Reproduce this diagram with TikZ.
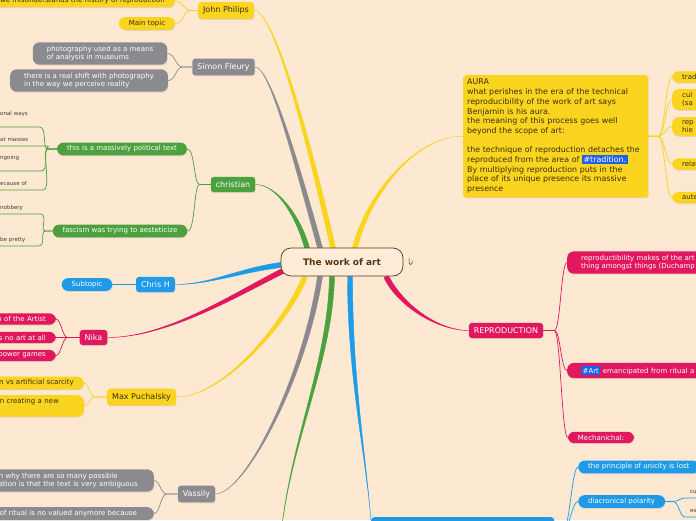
\documentclass[tikz,border=0pt]{standalone}
\usepackage{fontspec}
\setmainfont{DejaVu Sans}
\usepackage{xcolor}
\usetikzlibrary{calc,shadows,positioning}
\definecolor{mmBg}{RGB}{253,232,210}
\definecolor{mmCore}{RGB}{254,236,216}
\definecolor{mmBrown}{RGB}{92,52,16}
\definecolor{mmInk}{RGB}{58,46,10}
\definecolor{mmLeafInk}{RGB}{70,60,50}
\definecolor{mmYellow}{RGB}{250,212,30}
\definecolor{mmGrey}{RGB}{139,139,143}
\definecolor{mmGreen}{RGB}{76,160,62}
\definecolor{mmBlue}{RGB}{30,155,232}
\definecolor{mmPink}{RGB}{226,24,94}
\definecolor{mmTag}{RGB}{28,96,238}
\pgfdeclarelayer{back}
\pgfdeclarelayer{links}
\pgfsetlayers{back,links,main}
\newcommand\mmtag[1]{{\fboxsep=1.5pt\colorbox{mmTag}{\textcolor{white}{#1}}}}
\newcommand\limb[6]{\filldraw[#1, line width=0.4pt] ($(#2)+(#3)$) .. controls +(#5) and +(#6) .. (#4) .. controls +(#6) and +(#5) .. ($(#2)-(#3)$) -- cycle;}
\tikzset{
  topicbox/.style={rounded corners=3pt, inner xsep=5pt, inner ysep=4.5pt, font=\fontsize{8}{9.6}\selectfont, drop shadow={opacity=0.2, shadow xshift=0.5pt, shadow yshift=-1pt}},
  subbox/.style={rounded corners=6.5pt, inner xsep=10pt, inner ysep=3pt, font=\fontsize{7}{8.5}\selectfont, drop shadow={opacity=0.2, shadow xshift=0.5pt, shadow yshift=-1pt}},
  notebox/.style={subbox, inner xsep=14pt, inner ysep=3.5pt, align=left},
  leafbox/.style={anchor=south west, text width=#1, align=left, inner xsep=5pt, inner ysep=1.5pt, text depth=2.5pt, font=\fontsize{5.5}{6.5}\selectfont, text=mmLeafInk},
  leafbox/.default=30pt,
  cutleft/.style={anchor=east, text width=#1, align=right},
  cutleft/.default=90pt,
  cutright/.style={anchor=west, text width=#1, align=left},
  cutright/.default=60pt,
  twig/.style={draw=#1, line width=0.7pt}
}
\begin{document}
\begin{tikzpicture}[x=1pt, y=-1pt]
\useasboundingbox (0,0) rectangle (696,520);
\begin{pgfonlayer}{back}
  \fill[mmBg] (0,0) rectangle (696,520);
\end{pgfonlayer}

\node[draw=mmBrown, line width=0.7pt, fill=mmCore, rounded corners=10pt, minimum width=122pt, minimum height=28pt, text=mmBrown, font=\fontsize{9}{11}\selectfont\bfseries] (root) at (342,262) {The work of art};
\draw[mmBrown, line width=0.5pt] (409.2,258.3) -- (409.2,263.2) arc[start angle=180, end angle=0, radius=1.4] -- (412,260.5);

\node[topicbox, fill=mmYellow, text=mmInk] (john) at (226,10.5) {John Philips};
\node[subbox, fill=mmYellow, text=mmInk, cutleft=200pt] (history) at (175,0.8) {we misunderstands the history of reproduction};
\node[subbox, fill=mmYellow, text=mmInk] (main) at (147,23.5) {Main topic};

\node[topicbox, fill=mmGrey, text=white] (simon) at (223.5,67) {Simon Fleury};
\node[notebox, fill=mmGrey, text=white] (museums) at (100,53.5) {photography used as a means\\of analysis in museums};
\node[notebox, fill=mmGrey, text=white] (shift) at (89,80.5) {there is a real shift with photography\\in the way we perceive reality};

\node[topicbox, fill=mmGreen, text=white] (christian) at (233,184.5) {christian};
\node[subbox, fill=mmGreen, text=white] (political) at (122,149) {this is a massively political text};
\node[subbox, fill=mmGreen, text=white] (fascism) at (120,231) {fascism was trying to aesteticize};
\node[leafbox=34pt, text depth=10pt] (ways) at (-5,127) {onal ways};
\node[leafbox=40pt] (masses) at (-5,146) {at masses};
\node[leafbox=36pt, text depth=10pt] (ongoing) at (-5,171) {ngoing};
\node[leafbox=38pt] (because) at (-5,190) {ecause of};
\node[leafbox=35pt] (snobbery) at (-5,214) {nobbery};
\node[leafbox=33pt] (pretty) at (-5,246) {be pretty};

\node[topicbox, fill=mmBlue, text=white] (chris) at (155.5,284.5) {Chris H};
\node[subbox, fill=mmBlue, text=white] (subtopic) at (87,284.5) {Subtopic};

\node[topicbox, fill=mmPink, text=white] (nika) at (93.5,337.5) {Nika};
\node[subbox, fill=mmPink, text=white, cutleft] (artist) at (56,319) {n of the Artist};
\node[subbox, fill=mmPink, text=white, cutleft] (noart) at (56,337.5) {s no art at all};
\node[subbox, fill=mmPink, text=white, cutleft] (power) at (56,355.5) {power games};

\node[topicbox, fill=mmYellow, text=mmInk] (max) at (141.5,397) {Max Puchalsky};
\node[subbox, fill=mmYellow, text=mmInk, cutleft] (scarcity) at (84,383) {n vs artificial scarcity};
\node[subbox, fill=mmYellow, text=mmInk, anchor=north east, text width=74pt, align=left, text depth=10pt] (creating) at (84,395) {n creating a new};

\node[topicbox, fill=mmGrey, text=white] (vassily) at (196.5,494) {Vassily};
\node[notebox, fill=mmGrey, text=white, anchor=east, text width=141pt] (ambiguous) at (154,480.5) {n why there are so many possible\\ation is that the text is very ambiguous};
\node[subbox, fill=mmGrey, text=white, anchor=north east, text width=144pt, align=left] (ritual) at (154,507) {of ritual is no valued anymore because};

\node[topicbox, fill=mmYellow, text=mmInk, anchor=north west, text width=177pt, align=left, inner xsep=4pt, inner ysep=4pt, font=\fontsize{7.9}{9.7}\selectfont] (aura) at (463,75) {AURA\\what perishes in the era of the technical\\reproducibility of the work of art says\\Benjamin is his aura.\\the meaning of this process goes well\\beyond the scope of art:\\[9.7pt]the technique of reproduction detaches the\\reproduced from the area of \mmtag{\#tradition.}\\By multiplying reproduction puts in the\\place of its unique presence its massive\\presence};
\node[subbox, fill=mmYellow, text=mmInk, cutright] (trad) at (672,77) {trad};
\node[subbox, fill=mmYellow, text=mmInk, cutright] (cult) at (672,99.5) {cul\\(sa};
\node[subbox, fill=mmYellow, text=mmInk, cutright] (rep) at (672,126.5) {rep\\hie};
\node[subbox, fill=mmYellow, text=mmInk, cutright] (relat) at (672,164) {relat};
\node[subbox, fill=mmYellow, text=mmInk, cutright] (aute) at (672,197.5) {aute};

\node[topicbox, fill=mmPink, text=white] (repro) at (506,330.5) {REPRODUCTION};
\node[notebox, fill=mmPink, text=white, cutright=150pt] (duchamp) at (567,262.5) {reproductibility makes of the art\\thing amongst things (Duchamp};
\node[notebox, fill=mmPink, text=white, cutright=150pt] (emancipated) at (567,370.5) {\mmtag{\#Art} emancipated from ritual a};
\node[subbox, fill=mmPink, text=white] (mech) at (601,437.5) {Mechanichal:};

\node[fill=mmBlue, rounded corners=3pt, anchor=north west, minimum width=183pt, minimum height=26pt, drop shadow={opacity=0.2, shadow xshift=0.5pt, shadow yshift=-1pt}] (bluetopic) at (371,517) {};
\node[subbox, fill=mmBlue, text=white, anchor=west] (unicity) at (578,467) {the principle of unicity is lost};
\node[subbox, fill=mmBlue, text=white, anchor=west] (polarity) at (578,501.5) {diacronical polarity};
\node[leafbox=20pt] (cu) at (685,498) {cu};
\node[leafbox=20pt] (es) at (685,517) {es};
\coordinate (greenend) at (280,545);

\begin{pgfonlayer}{links}
\limb{mmYellow}{[xshift=-9pt]root.north}{2.5,0}{john.east}{-25,-110}{20,0}
\limb{mmGrey}{[xshift=-22pt]root.north}{2.5,0}{simon.east}{-25,-90}{15,0}
\limb{mmGreen}{[xshift=-35pt]root.north}{2.5,0}{christian.east}{-10,-35}{20,0}
\limb{mmBlue}{[yshift=-3pt]root.west}{0,2.5}{chris.east}{-40,5}{35,0}
\limb{mmPink}{[xshift=4pt,yshift=-8pt]root.west}{1.2,2.2}{nika.east}{-50,25}{60,0}
\limb{mmYellow}{[xshift=-37pt]root.south}{2.2,1.2}{max.east}{-15,40}{50,0}
\limb{mmGrey}{[xshift=-22pt]root.south}{2.5,0}{vassily.east}{-15,100}{30,0}
\limb{mmGreen}{[xshift=-10pt]root.south}{2.5,0}{greenend}{-2,90}{8,-100}
\limb{mmBlue}{[xshift=8pt]root.south}{2.5,0}{[yshift=-3pt]bluetopic.north west}{0,100}{-6,-70}
\limb{mmYellow}{[xshift=13pt]root.north}{2.5,0}{aura.west}{12,-50}{-50,0}
\limb{mmPink}{[xshift=44pt]root.south}{2,-1.5}{repro.west}{15,30}{-30,0}

\draw[twig=mmYellow] (john.west) -- ++(-8,0) .. controls +(-6,0) and +(8,0) .. (history.east);
\draw[twig=mmYellow] (john.west) -- ++(-8,0) .. controls +(-6,0) and +(8,0) .. (main.east);
\draw[twig=mmGrey] (simon.west) -- ++(-9,0) .. controls +(-8,0) and +(8,0) .. (museums.east);
\draw[twig=mmGrey] (simon.west) -- ++(-9,0) .. controls +(-8,0) and +(8,0) .. (shift.east);
\draw[twig=mmGreen] (christian.west) -- ++(-11,0) .. controls +(-6,0) and +(8,0) .. (political.east);
\draw[twig=mmGreen] (christian.west) -- ++(-11,0) .. controls +(-6,0) and +(8,0) .. (fascism.east);
\draw[twig=mmGreen] (political.west) -- ++(-9,0) .. controls +(-6,0) and +(8,0) .. (ways.south east) -- (ways.south west);
\draw[twig=mmGreen] (political.west) -- ++(-9,0) .. controls +(-6,0) and +(8,0) .. (masses.south east) -- (masses.south west);
\draw[twig=mmGreen] (political.west) -- ++(-9,0) .. controls +(-6,0) and +(8,0) .. (ongoing.south east) -- (ongoing.south west);
\draw[twig=mmGreen] (political.west) -- ++(-9,0) .. controls +(-6,0) and +(8,0) .. (because.south east) -- (because.south west);
\draw[twig=mmGreen] (fascism.west) -- ++(-7,0) .. controls +(-6,0) and +(8,0) .. (snobbery.south east) -- (snobbery.south west);
\draw[twig=mmGreen] (fascism.west) -- ++(-7,0) .. controls +(-6,0) and +(8,0) .. (pretty.south east) -- (pretty.south west);
\draw[twig=mmBlue] (chris.west) -- (subtopic.east);
\draw[twig=mmPink] (nika.west) -- ++(-12,0) .. controls +(-5,0) and +(5,0) .. (artist.east);
\draw[twig=mmPink] (nika.west) -- ++(-12,0) .. controls +(-5,0) and +(5,0) .. (noart.east);
\draw[twig=mmPink] (nika.west) -- ++(-12,0) .. controls +(-5,0) and +(5,0) .. (power.east);
\draw[twig=mmYellow] (max.west) -- ++(-12,0) .. controls +(-5,0) and +(5,0) .. (scarcity.east);
\draw[twig=mmYellow] (max.west) -- ++(-12,0) .. controls +(-5,0) and +(5,0) .. (creating.east);
\draw[twig=mmGrey] (vassily.west) -- ++(-11,0) .. controls +(-6,0) and +(6,0) .. (ambiguous.east);
\draw[twig=mmGrey] (vassily.west) -- ++(-11,0) .. controls +(-6,0) and +(6,0) .. (ritual.east);
\draw[twig=mmYellow] (aura.east) -- ++(10,0) .. controls +(6,0) and +(-6,0) .. (trad.west);
\draw[twig=mmYellow] (aura.east) -- ++(10,0) .. controls +(6,0) and +(-6,0) .. (cult.west);
\draw[twig=mmYellow] (aura.east) -- ++(10,0) .. controls +(6,0) and +(-6,0) .. (rep.west);
\draw[twig=mmYellow] (aura.east) -- ++(10,0) .. controls +(6,0) and +(-6,0) .. (relat.west);
\draw[twig=mmYellow] (aura.east) -- ++(10,0) .. controls +(6,0) and +(-6,0) .. (aute.west);
\draw[twig=mmPink] (repro.east) -- ++(11,0) .. controls +(6,0) and +(-6,0) .. (duchamp.west);
\draw[twig=mmPink] (repro.east) -- ++(11,0) .. controls +(6,0) and +(-6,0) .. (emancipated.west);
\draw[twig=mmPink] (repro.east) -- ++(11,0) .. controls +(6,0) and +(-6,0) .. (mech.west);
\draw[twig=mmBlue] (bluetopic.east) -- ++(9,0) .. controls +(6,0) and +(-6,0) .. (unicity.west);
\draw[twig=mmBlue] (bluetopic.east) -- ++(9,0) .. controls +(6,0) and +(-6,0) .. (polarity.west);
\draw[twig=mmBlue] (polarity.east) -- ++(8,0) .. controls +(5,0) and +(-5,0) .. (cu.south west) -- (cu.south east);
\draw[twig=mmBlue] (polarity.east) -- ++(8,0) .. controls +(5,0) and +(-5,0) .. (es.south west) -- (es.south east);
\end{pgfonlayer}
\end{tikzpicture}
\end{document}
